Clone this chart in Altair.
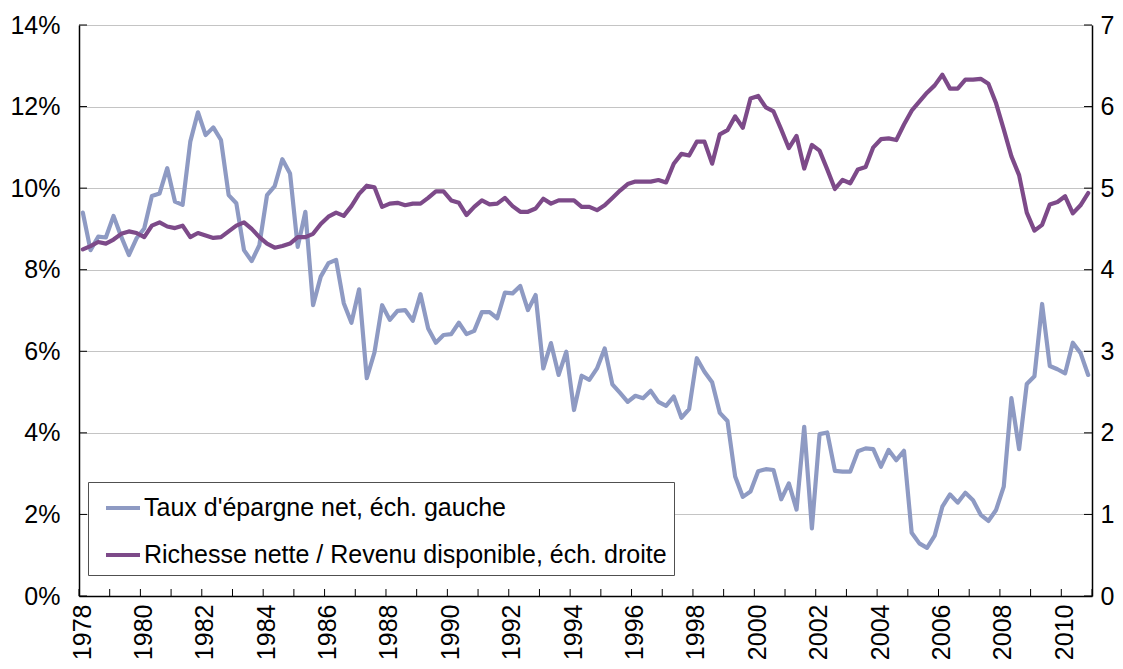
import altair as alt
import pandas as pd

START_YEAR = 1978

# Net saving rate (% of disposable income), quarterly 1978Q1-2010Q4, left scale
savings_rate = [
    9.40, 8.48, 8.81, 8.79, 9.32, 8.81, 8.36, 8.77, 9.01, 9.81,
    9.87, 10.49, 9.67, 9.59, 11.14, 11.86, 11.30, 11.49, 11.18, 9.83,
    9.63, 8.48, 8.21, 8.60, 9.83, 10.05, 10.71, 10.36, 8.56, 9.42,
    7.13, 7.83, 8.16, 8.24, 7.18, 6.70, 7.52, 5.34, 5.97, 7.13,
    6.77, 6.99, 7.01, 6.75, 7.40, 6.56, 6.21, 6.40, 6.42, 6.70,
    6.42, 6.50, 6.96, 6.96, 6.81, 7.44, 7.42, 7.60, 7.01, 7.38,
    5.58, 6.20, 5.42, 5.99, 4.56, 5.40, 5.30, 5.58, 6.07, 5.19,
    4.98, 4.76, 4.91, 4.85, 5.03, 4.76, 4.66, 4.89, 4.37, 4.58,
    5.83, 5.50, 5.24, 4.49, 4.29, 2.93, 2.43, 2.56, 3.06, 3.11,
    3.09, 2.37, 2.76, 2.12, 4.15, 1.66, 3.97, 4.01, 3.07, 3.05,
    3.05, 3.55, 3.62, 3.60, 3.17, 3.58, 3.33, 3.56, 1.55, 1.29,
    1.18, 1.48, 2.19, 2.49, 2.29, 2.53, 2.35, 1.99, 1.84, 2.11,
    2.68, 4.85, 3.60, 5.20, 5.39, 7.16, 5.64, 5.56, 5.46, 6.21,
    5.96, 5.42,
]

# Net wealth / disposable income, quarterly 1978Q1-2010Q4, right scale
wealth_ratio = [
    4.25, 4.29, 4.34, 4.32, 4.37, 4.44, 4.47, 4.45, 4.40, 4.54,
    4.58, 4.53, 4.51, 4.54, 4.40, 4.45, 4.42, 4.39, 4.40, 4.47,
    4.54, 4.58, 4.50, 4.40, 4.32, 4.27, 4.29, 4.32, 4.40, 4.40,
    4.44, 4.56, 4.65, 4.70, 4.66, 4.78, 4.93, 5.03, 5.01, 4.77,
    4.81, 4.82, 4.79, 4.81, 4.81, 4.88, 4.96, 4.96, 4.85, 4.82,
    4.67, 4.77, 4.85, 4.80, 4.81, 4.88, 4.78, 4.71, 4.71, 4.75,
    4.87, 4.81, 4.85, 4.85, 4.85, 4.77, 4.77, 4.73, 4.79, 4.88,
    4.97, 5.05, 5.08, 5.08, 5.08, 5.10, 5.07, 5.30, 5.42, 5.40,
    5.57, 5.57, 5.30, 5.66, 5.71, 5.88, 5.74, 6.10, 6.13, 5.99,
    5.94, 5.72, 5.49, 5.64, 5.24, 5.53, 5.46, 5.23, 4.99, 5.10,
    5.06, 5.23, 5.26, 5.50, 5.60, 5.61, 5.59, 5.78, 5.95, 6.06,
    6.17, 6.26, 6.39, 6.22, 6.22, 6.33, 6.33, 6.34, 6.28, 6.04,
    5.72, 5.39, 5.16, 4.70, 4.48, 4.55, 4.80, 4.83, 4.90, 4.69,
    4.79, 4.94,
]

SAV_LABEL = "Taux d'épargne net, éch. gauche"
WEA_LABEL = "Richesse nette / Revenu disponible, éch. droite"

year_ticks = list(range(1978, 2012))
label_years = list(range(1978, 2011, 2))
left_ticks = [0, 2, 4, 6, 8, 10, 12, 14]
right_ticks = [0, 1, 2, 3, 4, 5, 6, 7]

SAV_COLOR = "#8E9AC3"
WEA_COLOR = "#7D4A89"
FONT = "Liberation Sans"
FS = 25

n = len(savings_rate)
t = [START_YEAR + (i + 0.5) / 4 for i in range(n)]
df_sav = pd.DataFrame({"t": t, "v": savings_rate, "series": [SAV_LABEL] * n})
df_wea = pd.DataFrame({"t": t, "v": wealth_ratio, "series": [WEA_LABEL] * n})
df_years = pd.DataFrame({"yr": year_ticks})
df_left = pd.DataFrame({"v": left_ticks})
df_right = pd.DataFrame({"v": right_ticks})

W, H = 1013, 571
TICK = 7

x_scale = alt.Scale(domain=[1978, 2011], nice=False, zero=False)
x_axis = alt.Axis(
    values=label_years, format="d", labelAngle=-90, labelPadding=8,
    labelOffset=3, ticks=False, tickSize=0, grid=False, title=None,
    domainColor="black", domainWidth=1.5, labelFontSize=FS,
    labelFont=FONT, labelColor="black", labelOverlap=False,
)
yl_scale = alt.Scale(domain=[0, 14], nice=False, zero=True)
yl_axis = alt.Axis(
    values=left_ticks, labelExpr="datum.value + '%'", labelPadding=19,
    ticks=False, tickSize=0, grid=True, gridColor="#C4C4C4", gridWidth=1,
    title=None, domainColor="black", domainWidth=1.5, labelFontSize=FS,
    labelFont=FONT, labelColor="black", orient="left",
)
yr_scale = alt.Scale(domain=[0, 7], nice=False, zero=True)
yr_axis = alt.Axis(
    values=right_ticks, format="d", labelPadding=8, ticks=False,
    tickSize=0, grid=False, title=None, domainColor="black",
    domainWidth=1.5, labelFontSize=FS, labelFont=FONT, labelColor="black",
    orient="right",
)

color_scale = alt.Scale(domain=[SAV_LABEL, WEA_LABEL], range=[SAV_COLOR, WEA_COLOR])
legend = alt.Legend(
    orient="none", legendX=9, legendY=457, direction="vertical", title=None,
    symbolType="stroke", symbolSize=1156, symbolStrokeWidth=4,
    labelFontSize=FS, labelFont=FONT, labelColor="black", labelLimit=0,
    padding=7, symbolOffset=9, labelOffset=2, rowPadding=15,
    strokeColor="#505050", fillColor="white",
)

sav_line = alt.Chart(df_sav).mark_line(strokeWidth=4.2, strokeJoin="round", strokeCap="round").encode(
    x=alt.X("t:Q", scale=x_scale, axis=x_axis),
    y=alt.Y("v:Q", scale=yl_scale, axis=yl_axis),
    color=alt.Color("series:N", scale=color_scale, legend=legend),
)
x_ticks = alt.Chart(df_years).mark_rule(color="black", strokeWidth=1).encode(
    x=alt.X("yr:Q", scale=x_scale, axis=x_axis),
    y=alt.value(H),
    y2=alt.value(H - TICK),
)
l_ticks = alt.Chart(df_left).mark_rule(color="black", strokeWidth=1).encode(
    y=alt.Y("v:Q", scale=yl_scale, axis=yl_axis),
    x=alt.value(0),
    x2=alt.value(TICK + 1),
)
wea_line = alt.Chart(df_wea).mark_line(strokeWidth=4.2, strokeJoin="round", strokeCap="round").encode(
    x=alt.X("t:Q", scale=x_scale, axis=x_axis),
    y=alt.Y("v:Q", scale=yr_scale, axis=yr_axis),
    color=alt.Color("series:N", scale=color_scale, legend=legend),
)
r_ticks = alt.Chart(df_right).mark_rule(color="black", strokeWidth=1).encode(
    y=alt.Y("v:Q", scale=yr_scale, axis=yr_axis),
    x=alt.value(W - TICK - 1),
    x2=alt.value(W),
)

left = alt.layer(sav_line, l_ticks, x_ticks)
right = alt.layer(wea_line, r_ticks)

chart = alt.layer(left, right).resolve_scale(y="independent").properties(
    width=W, height=H,
    autosize=alt.AutoSizeParams(type="none"),
    padding={"left": 71, "top": 17, "right": 23, "bottom": 65},
).configure_view(strokeWidth=0).configure(background="white")

chart.save("out.html", embed_options={"renderer": "svg", "actions": False})
